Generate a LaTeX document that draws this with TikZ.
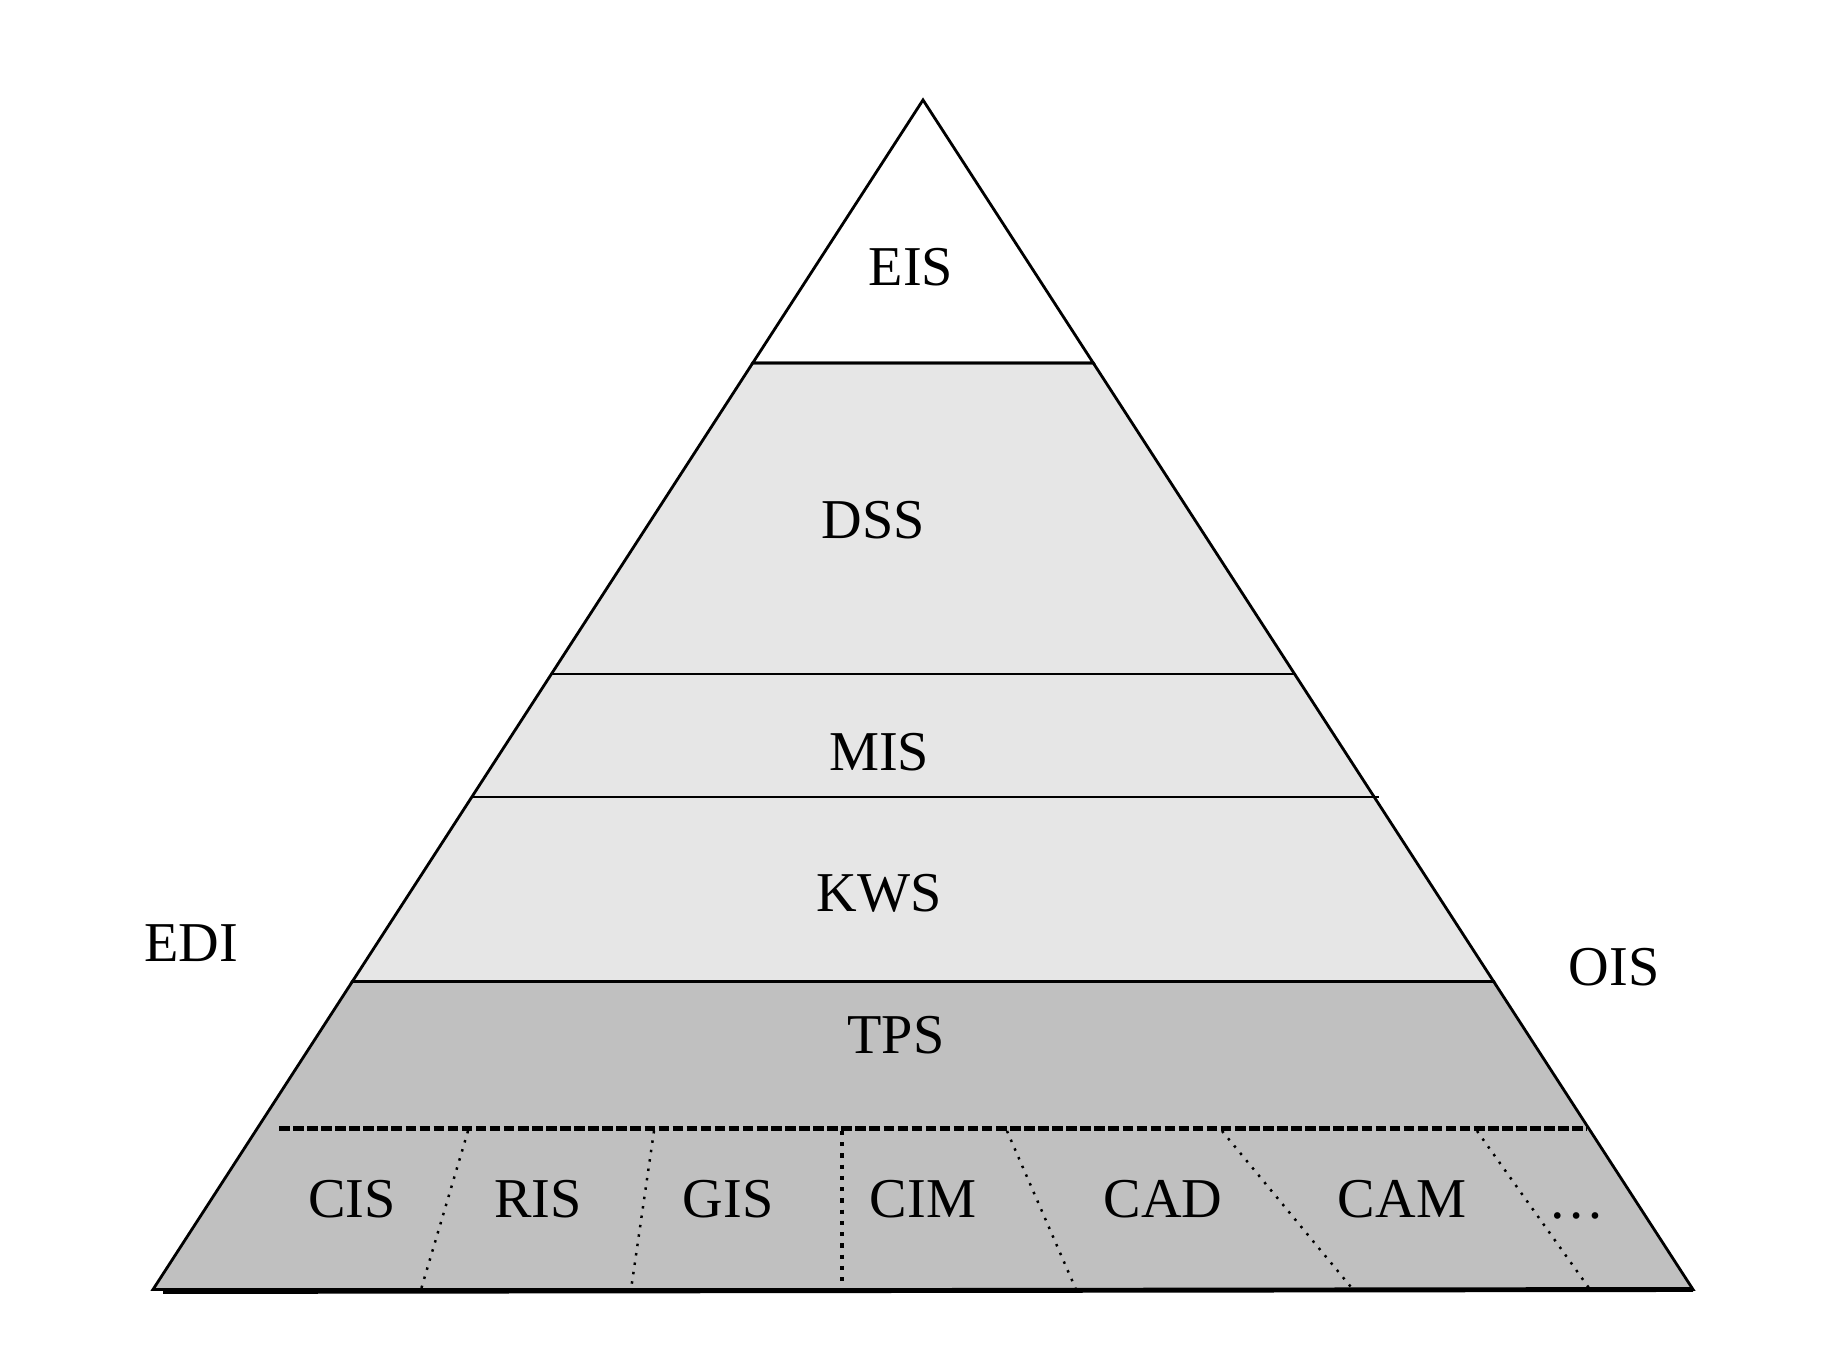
\documentclass[tikz,border=0pt]{standalone}
\usepackage{fontspec}
\setmainfont{Liberation Serif}
\usetikzlibrary{calc}
\definecolor{lightlayer}{HTML}{E6E6E6}
\definecolor{darklayer}{HTML}{C0C0C0}
\tikzset{lbl/.style={font=\fontsize{16}{19}\selectfont, inner sep=1pt},
  divider/.style={dotted, line width=0.7pt}}

\begin{document}
\begin{tikzpicture}
\useasboundingbox (0,0) rectangle (18.42,13.72);

\coordinate (apex) at (9.23,12.72);
\coordinate (bl) at (1.53,0.825);
\coordinate (br) at (16.93,0.825);

\coordinate (l1) at ($(apex)!0.2211!(bl)$);
\coordinate (r1) at ($(apex)!0.2211!(br)$);
\coordinate (l2) at ($(apex)!0.4826!(bl)$);
\coordinate (r2) at ($(apex)!0.4826!(br)$);
\coordinate (l3) at ($(apex)!0.586!(bl)$);
\coordinate (r3) at ($(apex)!0.586!(br)$);
\coordinate (l4) at ($(apex)!0.7411!(bl)$);
\coordinate (r4) at ($(apex)!0.7411!(br)$);

% layers
\filldraw[fill=darklayer, line width=0.8pt] (l4) -- (r4) -- (br) -- (bl) -- cycle;
\filldraw[fill=lightlayer, line width=0.8pt] (l1) -- (r1) -- (r4) -- (l4) -- cycle;
\draw[line width=0.8pt] (l2) -- (r2);
\draw[line width=0.8pt] (l3) -- ($(r3)+(0.05,0)$);
\draw[line width=0.8pt] (apex) -- (l1) -- (r1) -- cycle;
\draw[line width=1.4pt] ($(bl)+(0.1,-0.02)$) -- (br);

% dashed line above the applications
\coordinate (dl) at (2.79,2.435);
\coordinate (dr) at (15.87,2.435);
\draw[line width=1.3pt, dash pattern=on 3pt off 1pt] (dl) -- (dr);

% dividers
\draw[divider] (4.68,2.41) -- (4.21,0.825);
\draw[divider] (6.54,2.41) -- (6.31,0.825);
\draw[divider, line width=1.2pt] (8.42,2.41) -- (8.42,0.825);
\draw[divider] (10.07,2.41) -- (10.76,0.825);
\draw[divider] (12.22,2.41) -- (13.53,0.825);
\draw[divider] (14.77,2.41) -- (15.90,0.825);

\node[lbl] (eis) at (9.11,11.05) {EIS};
\node[lbl] (dss) at (8.73,8.52) {DSS};
\node[lbl] (mis) at (8.79,6.20) {MIS};
\node[lbl] (kws) at (8.79,4.79) {KWS};
\node[lbl] (tps) at (8.96,3.37) {TPS};
\node[lbl] (edi) at (1.91,4.29) {EDI};
\node[lbl] (ois) at (16.14,4.05) {OIS};

\node[lbl] (cis) at (3.52,1.73) {CIS};
\node[lbl] (ris) at (5.38,1.73) {RIS};
\node[lbl] (gis) at (7.28,1.73) {GIS};
\node[lbl] (cim) at (9.23,1.73) {CIM};
\node[lbl] (cad) at (11.63,1.73) {CAD};
\node[lbl] (cam) at (14.02,1.73) {CAM};
\node[lbl, anchor=base] (more) at (15.77,1.53) {\dots};

\end{tikzpicture}
\end{document}
